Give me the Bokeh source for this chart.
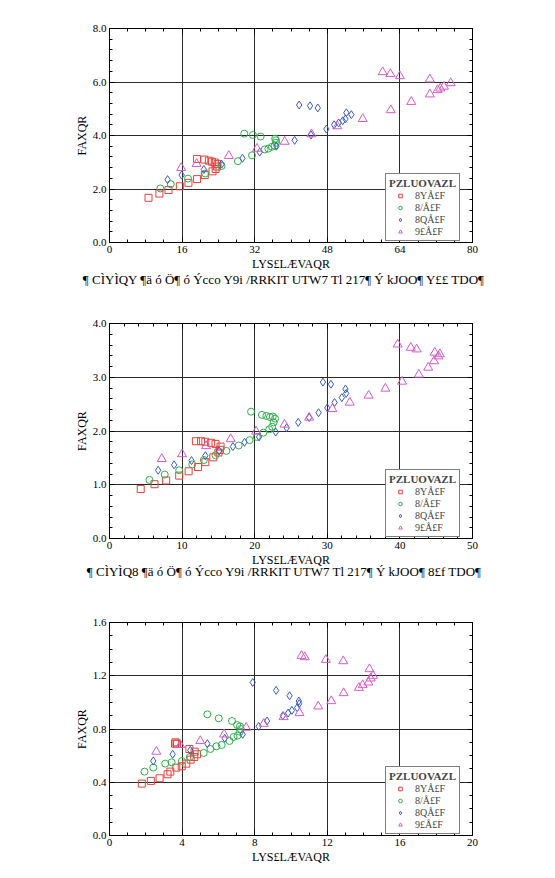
from bokeh.plotting import figure
from bokeh.models import LinearAxis, Title, Legend, LegendItem, FixedTicker, Range1d, PrintfTickFormatter
from bokeh.layouts import column
from bokeh.embed import file_html
from bokeh.resources import INLINE

# ---------------- text (as shown in the reference) ----------------
X_LABEL = "LYS£LÆVAQR"
Y_LABEL = "FAXQR"
LEGEND_TITLE = "PZLUOVAZL"
SERIES_LABELS = ["8YÅ£F", "8/Å£F", "8QÅ£F", "9£Å£F"]
CAPTION_1 = "¶ CÌYÌQY  ¶ä ó Ö¶ ó Ýcco  Y9i  /RRKIT UTW7 Tl 217¶ Ý kJOO¶ Y££  TDO¶"
CAPTION_2 = "¶ CÌYÌQ8  ¶ä ó Ö¶ ó Ýcco  Y9i  /RRKIT UTW7 Tl 217¶ Ý kJOO¶ 8£f  TDO¶"

# ---------------- ticks ----------------
P1_XTICKS = [0, 16, 32, 48, 64, 80]
P1_YTICKS = [0, 2, 4, 6, 8]
P2_XTICKS = [0, 10, 20, 30, 40, 50]
P2_YTICKS = [0, 1, 2, 3, 4]
P3_XTICKS = [0, 4, 8, 12, 16, 20]
P3_YTICKS = [0.0, 0.4, 0.8, 1.2, 1.6]

# ---------------- panel 1 data ----------------
p1_sq_x = [8.6, 11.0, 13.0, 15.5, 17.4, 19.3, 21.0, 22.7, 23.4, 23.7, 23.8, 23.2, 22.6, 21.9, 20.9, 19.3]
p1_sq_y = [1.67, 1.83, 1.96, 2.10, 2.23, 2.37, 2.52, 2.66, 2.75, 2.84, 2.93, 2.99, 3.02, 3.06, 3.10, 3.12]
p1_ci_x = [11.2, 13.5, 17.3, 21.1, 24.7, 28.3, 31.4, 34.2, 35.0, 35.8, 36.4, 36.7, 36.7, 36.5, 33.3, 31.6, 29.7]
p1_ci_y = [2.02, 2.18, 2.39, 2.58, 2.86, 3.04, 3.26, 3.48, 3.51, 3.58, 3.62, 3.73, 3.82, 3.88, 3.96, 4.02, 4.07]
p1_di_x = [12.8, 15.9, 20.8, 24.7, 29.3, 33.1, 36.8, 40.8, 44.4, 47.8, 49.5, 50.5, 51.4, 52.0, 53.3, 52.2, 45.9, 44.2, 41.8]
p1_di_y = [2.35, 2.52, 2.73, 2.93, 3.15, 3.38, 3.60, 3.82, 4.02, 4.24, 4.40, 4.47, 4.55, 4.62, 4.78, 4.85, 5.03, 5.11, 5.14]
p1_tr_x = [15.8, 19.2, 26.3, 32.5, 38.6, 44.5, 50.2, 55.8, 62.0, 66.5, 70.6, 72.3, 72.9, 73.7, 75.2, 70.6, 64.0, 61.9, 60.2]
p1_tr_y = [2.79, 2.94, 3.24, 3.51, 3.77, 4.05, 4.35, 4.62, 4.95, 5.26, 5.54, 5.70, 5.76, 5.83, 5.96, 6.10, 6.22, 6.30, 6.37]

# ---------------- panel 2 data ----------------
p2_sq_x = [4.3, 6.2, 7.8, 9.6, 10.9, 12.2, 13.2, 14.3, 15.0, 15.2, 15.3, 14.6, 14.0, 13.2, 12.6, 11.9]
p2_sq_y = [0.92, 1.01, 1.08, 1.17, 1.25, 1.33, 1.42, 1.51, 1.60, 1.65, 1.71, 1.76, 1.78, 1.80, 1.81, 1.81]
p2_ci_x = [5.5, 7.6, 9.6, 11.4, 13.0, 14.6, 16.1, 17.8, 19.3, 20.3, 21.2, 22.0, 22.4, 22.6, 22.8, 22.5, 22.1, 21.6, 21.0, 19.5]
p2_ci_y = [1.09, 1.19, 1.27, 1.38, 1.46, 1.55, 1.63, 1.73, 1.83, 1.89, 1.97, 2.03, 2.08, 2.16, 2.23, 2.27, 2.26, 2.28, 2.30, 2.36]
p2_di_x = [6.7, 8.9, 11.3, 13.2, 15.1, 17.0, 18.6, 20.6, 22.9, 24.4, 26.0, 27.5, 28.8, 30.0, 31.0, 32.0, 32.6, 32.5, 30.5, 29.4]
p2_di_y = [1.27, 1.37, 1.45, 1.54, 1.63, 1.71, 1.79, 1.89, 1.98, 2.06, 2.16, 2.25, 2.34, 2.43, 2.53, 2.62, 2.70, 2.78, 2.87, 2.91]
p2_tr_x = [7.2, 10.0, 13.3, 16.7, 20.2, 24.1, 27.5, 30.7, 33.1, 35.7, 38.0, 40.3, 42.6, 43.9, 44.7, 45.3, 45.5, 44.8, 42.3, 41.5, 39.7]
p2_tr_y = [1.48, 1.57, 1.72, 1.85, 1.99, 2.12, 2.25, 2.41, 2.53, 2.66, 2.79, 2.92, 3.05, 3.18, 3.30, 3.39, 3.43, 3.46, 3.52, 3.55, 3.61]

# ---------------- panel 3 data ----------------
p3_sq_x = [1.78, 2.28, 2.76, 3.20, 3.35, 3.68, 3.98, 4.23, 4.47, 4.67, 4.82, 4.69, 4.40, 3.72, 3.61, 3.64]
p3_sq_y = [0.39, 0.41, 0.43, 0.46, 0.48, 0.51, 0.52, 0.54, 0.57, 0.59, 0.61, 0.63, 0.65, 0.69, 0.69, 0.70]
p3_ci_x = [1.93, 2.41, 3.07, 3.42, 3.99, 4.43, 5.19, 5.56, 5.89, 6.18, 6.61, 6.84, 7.05, 7.18, 7.23, 7.19, 7.03, 6.75, 6.02, 5.39]
p3_ci_y = [0.48, 0.51, 0.54, 0.55, 0.56, 0.59, 0.62, 0.65, 0.67, 0.68, 0.71, 0.74, 0.75, 0.78, 0.80, 0.82, 0.83, 0.86, 0.88, 0.91]
p3_di_x = [2.41, 3.48, 4.45, 5.39, 6.35, 7.34, 8.22, 8.68, 9.55, 9.84, 10.05, 10.34, 10.45, 10.43, 9.92, 9.18, 7.89]
p3_di_y = [0.56, 0.61, 0.64, 0.69, 0.73, 0.76, 0.82, 0.86, 0.90, 0.92, 0.94, 0.96, 0.99, 1.01, 1.05, 1.09, 1.15]
p3_tr_x = [2.58, 3.90, 5.00, 6.31, 7.53, 8.50, 9.59, 10.47, 11.50, 12.22, 12.90, 13.74, 13.95, 14.26, 14.39, 14.52, 14.32, 12.88, 11.92, 10.76, 10.58]
p3_tr_y = [0.63, 0.68, 0.71, 0.76, 0.81, 0.84, 0.89, 0.92, 0.97, 1.01, 1.07, 1.11, 1.13, 1.15, 1.18, 1.20, 1.25, 1.31, 1.32, 1.34, 1.35]

SERIF = "Liberation Serif"
COLORS = ["#e8413c", "#2eae4a", "#3a5cc4", "#d85ac8"]
MARKERS = ["square", "circle", "diamond", "triangle"]
SIZES = [7, 7, 8, 9]


def minor_between(ticks, n):
    out = []
    for a, b in zip(ticks[:-1], ticks[1:]):
        step = (b - a) / n
        out += [a + step * k for k in range(1, n)]
    return out


def style_axis(ax, show_labels=True):
    ax.axis_line_color = "black"
    ax.axis_line_width = 1
    ax.major_tick_in = 5
    ax.major_tick_out = 0
    ax.minor_tick_in = 3
    ax.minor_tick_out = 0
    ax.major_tick_line_color = "black"
    ax.minor_tick_line_color = "black"
    ax.major_label_text_font = SERIF
    ax.major_label_text_color = "black"
    ax.major_label_standoff = 3
    ax.axis_label_text_font = SERIF
    ax.axis_label_text_font_style = "normal"
    ax.axis_label_text_font_size = "12px"
    ax.axis_label_text_color = "black"
    ax.axis_label_standoff = 1
    if show_labels:
        ax.major_label_text_font_size = "11px"
    else:
        ax.major_label_text_font_size = "2px"
        ax.major_label_text_alpha = 0
        ax.major_label_text_color = None
        ax.major_label_standoff = 0


def make_panel(series, xticks, yticks, xminor_n, yminor_n, yfmt, height, top, bottom,
               caption=None, cap_standoff=-8):
    p = figure(width=555, height=height,
               x_range=Range1d(xticks[0], xticks[-1]), y_range=Range1d(yticks[0], yticks[-1]),
               output_backend="svg", toolbar_location=None,
               min_border_left=109, min_border_right=83,
               min_border_top=top, min_border_bottom=bottom,
               x_axis_label=X_LABEL, y_axis_label=Y_LABEL)
    p.background_fill_color = "white"
    p.border_fill_color = "white"
    p.outline_line_color = "black"
    p.outline_line_width = 1

    xt = FixedTicker(ticks=xticks, minor_ticks=minor_between(xticks, xminor_n))
    yt = FixedTicker(ticks=yticks, minor_ticks=minor_between(yticks, yminor_n))
    p.xaxis.ticker = xt
    p.yaxis.ticker = yt
    p.yaxis.formatter = PrintfTickFormatter(format=yfmt)
    style_axis(p.xaxis[0])
    style_axis(p.yaxis[0])

    top_ax = LinearAxis(ticker=xt)
    right_ax = LinearAxis(ticker=yt)
    style_axis(top_ax, False)
    style_axis(right_ax, False)
    p.add_layout(top_ax, "above")
    p.add_layout(right_ax, "right")

    p.xgrid.ticker = xt
    p.ygrid.ticker = yt
    p.xgrid.grid_line_color = "#2a2a2a"
    p.ygrid.grid_line_color = "#2a2a2a"
    p.xgrid.grid_line_width = 1
    p.ygrid.grid_line_width = 1

    items = []
    for (sx, sy), col, mk, sz, lab in zip(series, COLORS, MARKERS, SIZES, SERIES_LABELS):
        r = p.scatter(sx, sy, marker=mk, size=sz, fill_color=None, line_color=col, line_width=1)
        items.append(LegendItem(label=lab, renderers=[r]))

    leg = Legend(items=items, title=LEGEND_TITLE, location=(276, 1),
                 border_line_color="black", border_line_width=1,
                 background_fill_color="white", background_fill_alpha=1,
                 label_text_font=SERIF, label_text_font_size="10px",
                 title_text_font=SERIF, title_text_font_size="11px",
                 title_text_font_style="bold", title_standoff=1,
                 glyph_height=9, glyph_width=22, label_height=9, label_width=40,
                 label_standoff=4, spacing=1, padding=3, margin=0)
    p.add_layout(leg, "center")

    if caption is not None:
        t = Title(text=caption, align="center", text_font=SERIF, text_font_size="13px",
                  text_font_style="normal", text_color="black", standoff=cap_standoff)
        p.add_layout(t, "below")
    return p


p1 = make_panel([(p1_sq_x, p1_sq_y), (p1_ci_x, p1_ci_y), (p1_di_x, p1_di_y), (p1_tr_x, p1_tr_y)],
                P1_XTICKS, P1_YTICKS, 4, 5, "%.1f", 290, 28, 48, CAPTION_1, -8)
p2 = make_panel([(p2_sq_x, p2_sq_y), (p2_ci_x, p2_ci_y), (p2_di_x, p2_di_y), (p2_tr_x, p2_tr_y)],
                P2_XTICKS, P2_YTICKS, 5, 5, "%.1f", 300, 33, 52, CAPTION_2, -18)
p3 = make_panel([(p3_sq_x, p3_sq_y), (p3_ci_x, p3_ci_y), (p3_di_x, p3_di_y), (p3_tr_x, p3_tr_y)],
                P3_XTICKS, P3_YTICKS, 4, 4, "%.1f", 288, 32, 43, None)

layout = column(p1, p2, p3, spacing=0)
open("out.html", "w").write(file_html(layout, INLINE))
